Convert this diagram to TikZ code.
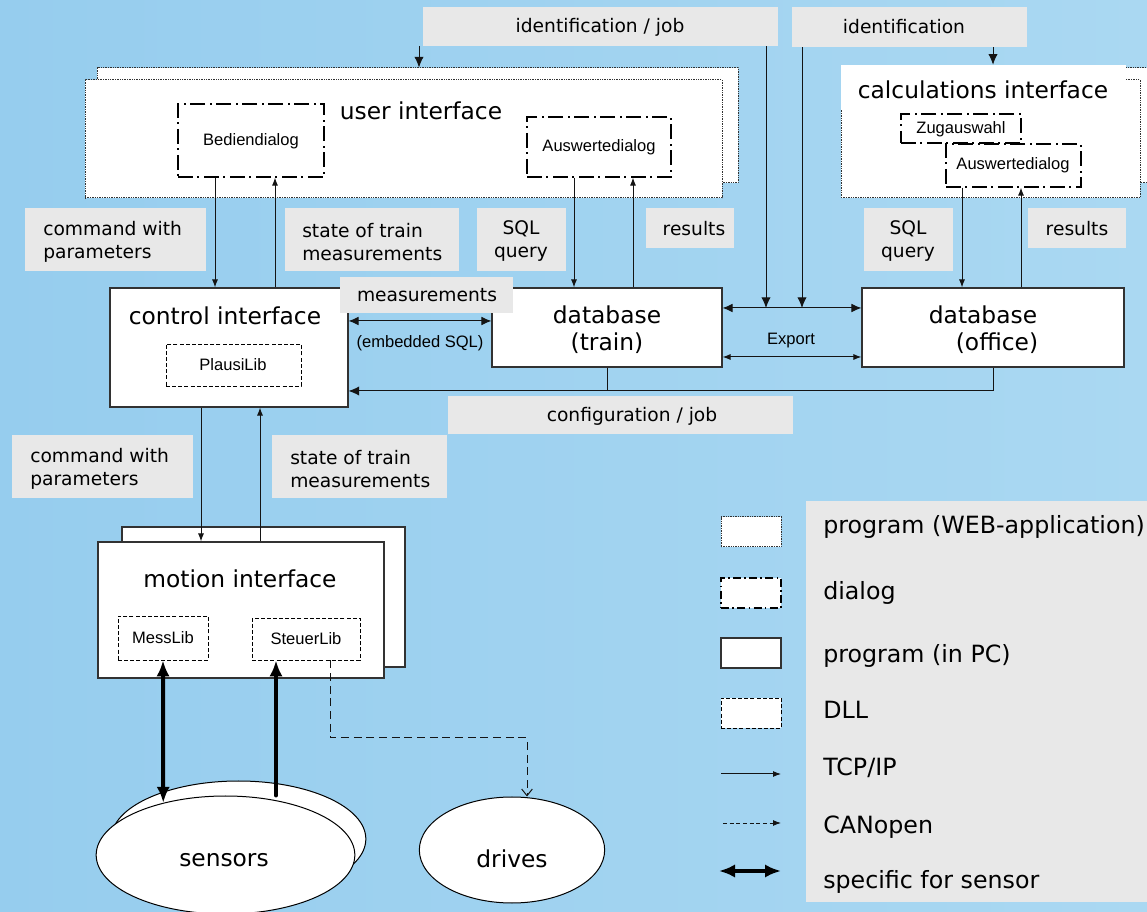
\documentclass[tikz,border=0pt]{standalone}
\usepackage{fontspec}
\setmainfont{DejaVu Sans}
\newfontfamily\arialf{Liberation Sans}
\usetikzlibrary{shapes.geometric,arrows.meta,fit,calc}
\definecolor{bgleft}{RGB}{150,205,238}
\definecolor{bgmid}{RGB}{200,230,246}
\definecolor{bgright}{RGB}{170,216,242}
\definecolor{lgray}{RGB}{232,232,232}
\definecolor{lnc}{RGB}{20,20,20}
\definecolor{boxc}{RGB}{50,50,50}
\tikzset{
  box/.style={draw=boxc, fill=white, line width=0.8pt, inner sep=0pt},
  webbox/.style={draw=boxc, fill=white, line width=0.75pt, dash pattern=on 1pt off 0.8pt, inner sep=0pt},
  dlgbox/.style={draw=black, fill=white, line width=0.9pt, dash pattern=on 11pt off 3.5pt on 1.5pt off 3.5pt, inner sep=0pt},
  dllbox/.style={draw=black, fill=white, line width=0.7pt, dash pattern=on 3pt off 1.6pt, inner sep=0pt},
  lbl/.style={fill=lgray, inner sep=0pt},
  lbltxt/.style={font=\fontsize{14}{17.25}\selectfont, inner sep=0pt, align=left},
  ttl/.style={font=\fontsize{17.5}{20.5}\selectfont, inner sep=0pt},
  legt/.style={font=\fontsize{17.8}{20}\selectfont, inner sep=0pt, anchor=base west},
  small/.style={font=\arialf\fontsize{12.4}{14}\selectfont, inner sep=0pt},
  ln/.style={draw=lnc, line width=0.75pt},
  arr/.style={ln, -{Latex[length=6pt,width=4.5pt]}},
  arrb/.style={ln, -{Latex[length=8pt,width=7pt]}},
  dblarr/.style={ln, {Latex[length=7.5pt,width=6.5pt]}-{Latex[length=7.5pt,width=6.5pt]}},
  dblsm/.style={ln, {Latex[length=6pt,width=4.5pt]}-{Latex[length=6pt,width=4.5pt]}},
  thk/.style={draw=black, line width=3pt},
  can/.style={draw=lnc, line width=0.75pt, dash pattern=on 6pt off 3.5pt},
}
\begin{document}
\begin{tikzpicture}[x=0.75pt,y=-0.75pt]
\useasboundingbox (0,0) rectangle (1147,912);
\clip (0,0) rectangle (1147,912);
\shade[left color=bgleft, middle color=bgmid, right color=bgright] (0,0) rectangle (1147,912);

% x / y helper coordinates
\foreach \xx in {163,201,215,260,275,276,330,419,527,574,607,633,766,802,962,993,1021}
  {\coordinate (x\xx) at (\xx,0);}
\foreach \yy in {308,321,357,391,738}
  {\coordinate (y\yy) at (0,\yy);}

% user interface
\node[webbox, fit={(97,68) (738,183)}] (uiback) {};
\node[webbox, fit={(85,80) (722,198)}] (ui) {};
\node[ttl] (uit) at (421,111) {user interface};
\node[dlgbox, fit={(178,104) (324,177)}] (bedien) {};
\node[small] (bedient) at (251,141) {Bediendialog};
\node[dlgbox, fit={(527,117) (671,177)}] (ausw1) {};
\node[small] (ausw1t) at (599,147) {Auswertedialog};

% calculations interface
\node[webbox, fit={(853,68) (1170,183)}] (calcback) {};
\node[webbox, fit={(841,80) (1140,198)}] (calc) {};
\node[fill=white, inner sep=0pt, fit={(841,65) (1126,110)}] (calctbox) {};
\node[ttl] (calct) at (983,90) {calculations interface};
\node[dlgbox, fit={(946,144) (1081,187)}] (ausw2) {};
\node[small] (ausw2t) at (1013,165) {Auswertedialog};
\node[dlgbox, fit={(901,114) (1021,143)}] (zug) {};
\node[small] (zugt) at (961,129) {Zugauswahl};

% control interface
\node[box, fit={(110,288) (348,407)}] (ctrl) {};
\node[ttl] (ctrlt) at (225,316) {control interface};
\node[dllbox, fit={(166,344) (301,386)}] (plausi) {};
\node[small] (plausit) at (233,365) {PlausiLib};

% databases
\node[box, fit={(492,288) (722,367)}] (dbt) {};
\node[ttl, align=center] (dbtt) at (607,329.5) {database\\(train)};
\node[box, fit={(862,288) (1124,367)}] (dbo) {};
\node[ttl, align=center] (dbot) at (983,330) {database\\\hspace*{1.2em}(office)};

% motion interface
\node[box, fit={(122,527) (405,667)}] (motback) {};
\node[box, fit={(98,542) (384,678)}] (mot) {};
\node[ttl] (mott) at (240,579) {motion interface};
\node[dllbox, fit={(118,616) (208,660)}] (mess) {};
\node[small] (messt) at (163,638) {MessLib};
\node[dllbox, fit={(252,618) (360,660)}] (steuer) {};
\node[small] (steuert) at (306,639) {SteuerLib};

% sensors and drives
\node[ellipse, draw=black, fill=white, line width=0.75pt, minimum width=191pt, minimum height=87pt, inner sep=0pt] (sensB) at (238.5,839) {};
\node[ellipse, draw=black, fill=white, line width=0.75pt, minimum width=194pt, minimum height=88.5pt, inner sep=0pt] (sensF) at (225.5,855) {};
\node[ttl] (senst) at (224,860) {sensors};
\node[ellipse, draw=black, fill=white, line width=0.75pt, minimum width=139pt, minimum height=79.5pt, inner sep=0pt] (drives) at (512,850) {};
\node[ttl] (drivest) at (512,859) {drives};

% connectors
\draw[arr] (bedien.south -| x215) -- (ctrl.north -| x215);
\draw[arr] (ctrl.north -| x275) -- (bedien.south -| x275);
\draw[arr] (ausw1.south -| x574) -- (dbt.north -| x574);
\draw[arr] (dbt.north -| x633) -- (ausw1.south -| x633);
\draw[arr] (ausw2.south -| x962) -- (dbo.north -| x962);
\draw[arr] (dbo.north -| x1021) -- (ausw2.south -| x1021);
\draw[arrb] (x419 |- 0,46) -- (uiback.north -| x419);
\draw[arrb] (x766 |- 0,46) -- (x766 |- y308);
\draw[arrb] (x802 |- 0,47) -- (x802 |- y308);
\draw[arrb] (x993 |- 0,47) -- (calctbox.north -| x993);
\draw[dblarr] (dbt.east |- y308) -- (dbo.west |- y308);
\draw[dblsm] (dbt.east |- y357) -- (dbo.west |- y357);
\draw[dblarr] (ctrl.east |- y321) -- (dbt.west |- y321);
\draw[ln] (dbt.south -| x607) -- (x607 |- y391);
\draw[arrb] (dbo.south -| x993) |- (ctrl.east |- y391);
\draw[arr] (ctrl.south -| x201) -- (mot.north -| x201);
\draw[arr] (mot.north -| x260) -- (ctrl.south -| x260);
\draw[thk, {Latex[length=12pt,width=10pt]}-{Latex[length=12pt,width=10pt]}] (mess.south) -- (sensF.140);
\draw[thk, line cap=round, -{Latex[length=12pt,width=10pt]}] (sensF.north -| x276) -- (steuer.south -| x276);
\draw[can, -{Straight Barb[length=5pt,width=8pt]}] (steuer.south -| x330) -- (x330 |- y738) -| (x527 |- drives.north);

% labels
\node[lbl, fit={(423,7) (778,46)}] (Lidj) {};
\node[lbltxt] (Lidjt) at (600,27) {identification / job};
\node[lbl, fit={(792,7) (1027,47)}] (Lid) {};
\node[lbltxt] (Lidt) at (904,27) {identification};
\node[lbl, fit={(25,208) (206,271)}] (Lcmd1) {};
\node[lbltxt, anchor=west] (Lcmd1t) at (43,242) {command with\\parameters};
\node[lbl, fit={(285,208) (459,271)}] (Lst1) {};
\node[lbltxt, anchor=west] (Lst1t) at (302,242) {state of train\\measurements};
\node[lbl, fit={(477,208) (566,271)}] (Lsql1) {};
\node[lbltxt, align=center] (Lsql1t) at (521,241) {SQL\\query};
\node[lbl, fit={(646,208) (734,248)}] (Lres1) {};
\node[lbltxt] (Lres1t) at (694,229) {results};
\node[lbl, fit={(864,208) (953,271)}] (Lsql2) {};
\node[lbltxt, align=center] (Lsql2t) at (908,241) {SQL\\query};
\node[lbl, fit={(1028,208) (1126,248)}] (Lres2) {};
\node[lbltxt] (Lres2t) at (1077,229) {results};
\node[lbl, fit={(340,277) (513,313)}] (Lmeas) {};
\node[lbltxt] (Lmeast) at (427,295) {measurements};
\node[lbl, fit={(448,396) (793,434)}] (Lconf) {};
\node[lbltxt] (Lconft) at (632,416) {configuration / job};
\node[lbl, fit={(12,435) (193,498)}] (Lcmd2) {};
\node[lbltxt, anchor=west] (Lcmd2t) at (30,469) {command with\\parameters};
\node[lbl, fit={(272,435) (447,498)}] (Lst2) {};
\node[lbltxt, anchor=west] (Lst2t) at (290,469) {state of train\\measurements};
\node[small] (emb) at (420,343) {(embedded SQL)};
\node[small] (exp) at (791,341) {Export};

% legend
\node[fill=lgray, inner sep=0pt, fit={(806,501) (1160,902)}] (legbox) {};
\node[webbox, fit={(721,517) (781,547)}] (lw) {};
\node[dlgbox, dash pattern=on 6pt off 2.5pt on 1.2pt off 2.5pt, fit={(721,578) (781,608)}] (ld) {};
\node[box, line width=1.1pt, fit={(721,638) (781,668)}] (lp) {};
\node[dllbox, fit={(721,698) (781,728)}] (ll) {};
\coordinate (lt1) at (721,774); \coordinate (lt2) at (781,774);
\coordinate (lc1) at (723,823); \coordinate (lc2) at (781,823);
\coordinate (ls1) at (719,871); \coordinate (ls2) at (781,871);
\draw[arr] (lt1) -- (lt2);
\draw[can, dash pattern=on 3pt off 2pt, -{Latex[length=6pt,width=4.5pt]}] (lc1) -- (lc2);
\draw[thk, {Latex[length=12pt,width=10pt]}-{Latex[length=12pt,width=10pt]}] (ls1) -- (ls2);
\node[legt] (t1) at (823,534) {program (WEB-application)};
\node[legt] (t2) at (823,600) {dialog};
\node[legt] (t3) at (823,663) {program (in PC)};
\node[legt] (t4) at (823,719) {DLL};
\node[legt] (t5) at (823,776) {TCP/IP};
\node[legt] (t6) at (823,833) {CANopen};
\node[legt] (t7) at (823,888) {specific for sensor};
\end{tikzpicture}
\end{document}
